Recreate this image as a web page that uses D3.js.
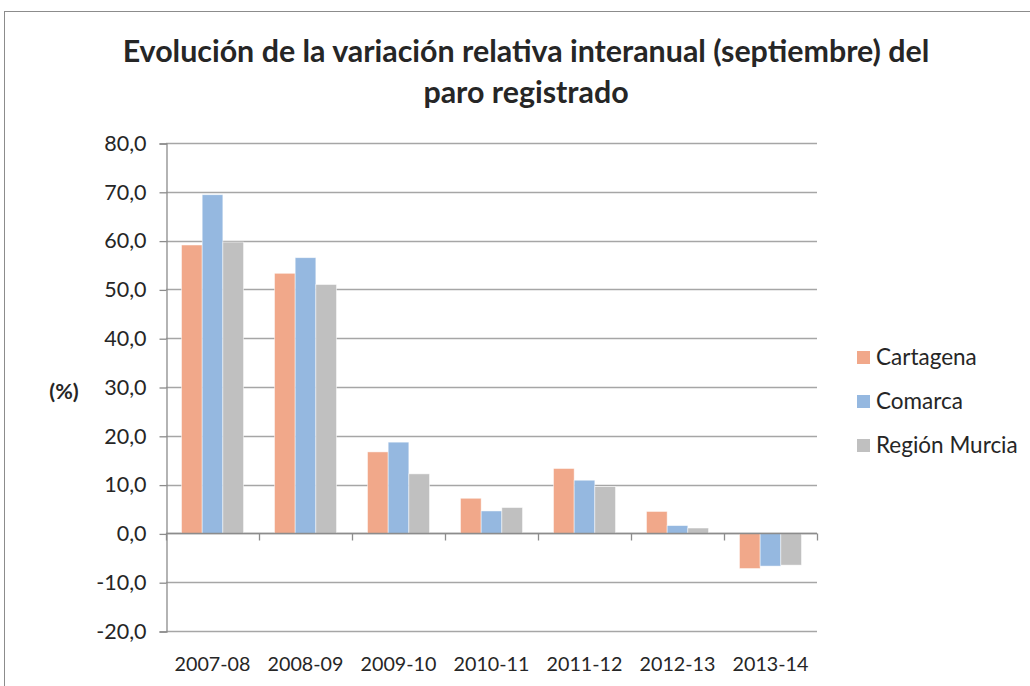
<!DOCTYPE html>
<html>
<head>
<meta charset="utf-8">
<script src="https://cdn.jsdelivr.net/npm/d3@7"></script>
<style>
  body { margin: 0; background: #fff; }
  svg { display: block; font-family: Lato, "Open Sans", sans-serif; }
</style>
</head>
<body>
<div class="chart"></div>
<script>
var categories = ['2007-08', '2008-09', '2009-10', '2010-11', '2011-12', '2012-13', '2013-14'];
var seriesNames = ['Cartagena', 'Comarca', 'Región Murcia'];
var cartagena = [59.1, 53.3, 16.7, 7.2, 13.3, 4.5, -7.2];
var comarca = [69.4, 56.5, 18.7, 4.6, 10.9, 1.6, -6.7];
var regionMurcia = [59.7, 51.0, 12.2, 5.3, 9.6, 1.1, -6.5];
var yTicks = [-20, -10, 0, 10, 20, 30, 40, 50, 60, 70, 80];
var colors = ['#F1A88A', '#95B8E0', '#C0C0C0'];

var width = 1030,
	height = 686,
	plotLeft = 166,
	plotRight = 817,
	plotTop = 143,
	plotBottom = 631;

var svg = d3.select('.chart').append('svg')
		.attr('width', width)
		.attr('height', height);

// outer frame
svg.append('rect')
	.attr('x', 4.5).attr('y', 11.5)
	.attr('width', 1040).attr('height', 700)
	.attr('fill', '#fff')
	.attr('stroke', '#8c8c8c')
	.attr('stroke-width', 1);

var y = d3.scaleLinear().domain([-20, 80]).range([plotBottom, plotTop]);
var x0 = d3.scaleBand().domain(categories).range([plotLeft, plotRight])
		.paddingInner(0.333).paddingOuter(0.1667);
var x1 = d3.scaleBand().domain(seriesNames).range([0, x0.bandwidth()]);
var step = x0.step();

// gridlines
svg.append('g').attr('class', 'grid')
	.selectAll('line').data(yTicks).enter().append('line')
	.attr('x1', plotLeft).attr('x2', plotRight)
	.attr('y1', function(d) { return Math.round(y(d)) + 0.5; })
	.attr('y2', function(d) { return Math.round(y(d)) + 0.5; })
	.attr('stroke', '#a6a6a6')
	.attr('stroke-width', 1.3);

// y axis
var yAxis = d3.axisLeft(y).tickValues(yTicks).tickSize(7).tickPadding(13)
		.tickFormat(function(d) { return d3.format('.1f')(d).replace('.', ',').replace('−', '-'); });
var gy = svg.append('g')
	.attr('transform', 'translate(' + (plotLeft + 0.5) + ',0.5)')
	.call(yAxis);
gy.select('.domain').attr('stroke', '#8c8c8c').attr('stroke-width', 1.3);
gy.selectAll('.tick line').attr('stroke', '#8c8c8c').attr('stroke-width', 1.3);
gy.selectAll('.tick text').attr('font-size', 21.5).attr('fill', '#262626')
	.attr('font-family', 'Lato, sans-serif');

// bars
var data = categories.map(function(c, i) {
	return { cat: c, vals: [cartagena[i], comarca[i], regionMurcia[i]] };
});
var groups = svg.append('g').attr('class', 'bars')
	.selectAll('g').data(data).enter().append('g')
	.attr('transform', function(d) { return 'translate(' + x0(d.cat) + ',0)'; });
groups.selectAll('rect')
	.data(function(d) { return d.vals.map(function(v, j) { return { name: seriesNames[j], v: v, j: j }; }); })
	.enter().append('rect')
	.attr('x', function(d) { return x1(d.name); })
	.attr('width', x1.bandwidth())
	.attr('y', function(d) { return y(Math.max(0, d.v)); })
	.attr('height', function(d) { return Math.abs(y(d.v) - y(0)); })
	.attr('fill', function(d) { return colors[d.j]; })
	.attr('stroke', 'rgba(255,255,255,0.6)')
	.attr('stroke-width', 0.8);

// category axis at zero
var zeroY = Math.round(y(0)) + 0.5;
var xAxisG = svg.append('g').attr('class', 'xaxis');
xAxisG.append('line')
	.attr('x1', plotLeft).attr('x2', plotRight)
	.attr('y1', zeroY).attr('y2', zeroY)
	.attr('stroke', '#8c8c8c').attr('stroke-width', 1.3);
xAxisG.selectAll('.tk').data(d3.range(categories.length + 1)).enter().append('line')
	.attr('class', 'tk')
	.attr('x1', function(i) { return Math.round(plotLeft + i * step) + 0.5; })
	.attr('x2', function(i) { return Math.round(plotLeft + i * step) + 0.5; })
	.attr('y1', zeroY).attr('y2', zeroY + 7)
	.attr('stroke', '#8c8c8c').attr('stroke-width', 1.3);
xAxisG.selectAll('text').data(categories).enter().append('text')
	.attr('x', function(d) { return x0(d) + x0.bandwidth() / 2; })
	.attr('y', 671)
	.attr('text-anchor', 'middle')
	.attr('font-size', 19.7)
	.attr('fill', '#262626')
	.text(function(d) { return d; });

// y label
svg.append('text')
	.attr('x', 64).attr('y', 399)
	.attr('text-anchor', 'middle')
	.attr('font-size', 21.5).attr('font-weight', 'bold')
	.attr('fill', '#262626')
	.text('(%)');

// title
var title = svg.append('text')
	.attr('text-anchor', 'middle')
	.attr('font-size', 30.4).attr('font-weight', 'bold')
	.attr('fill', '#262626');
title.append('tspan').attr('x', 526).attr('y', 62)
	.text('Evolución de la variación relativa interanual (septiembre) del');
title.append('tspan').attr('x', 526).attr('y', 103)
	.text('paro registrado');

// legend
var legend = svg.append('g').attr('class', 'legend')
	.selectAll('g').data(seriesNames).enter().append('g')
	.attr('transform', function(d, i) { return 'translate(857,' + (351 + i * 44) + ')'; });
legend.append('rect')
	.attr('width', 13).attr('height', 13)
	.attr('fill', function(d, i) { return colors[i]; });
legend.append('text')
	.attr('x', 19).attr('y', 14)
	.attr('font-size', 22.5)
	.attr('fill', '#262626')
	.text(function(d) { return d; });
</script>
</body>
</html>
